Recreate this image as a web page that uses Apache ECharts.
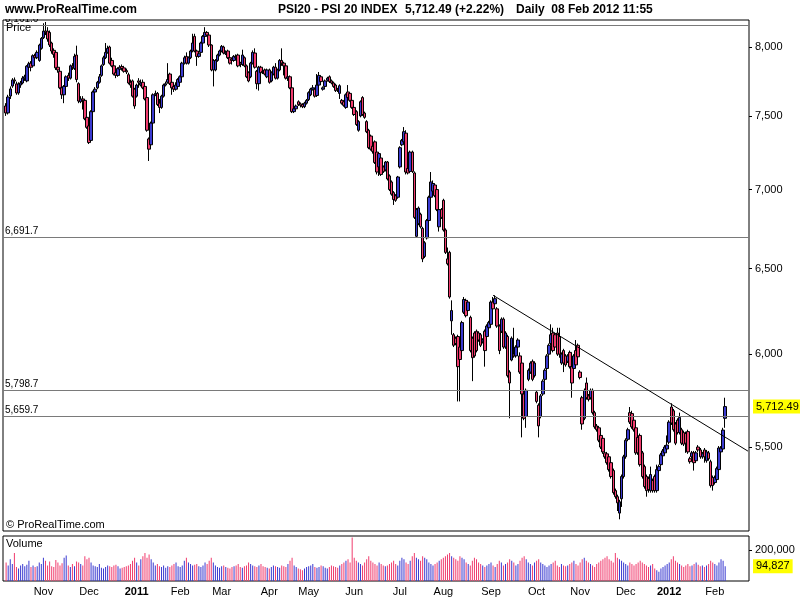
<!DOCTYPE html>
<html><head><meta charset="utf-8">
<script src="https://cdn.jsdelivr.net/npm/echarts@6/dist/echarts.min.js"></script>
<style>html,body{margin:0;padding:0;background:#fff}#c{width:800px;height:600px}</style>
</head><body><div id="c"></div>
<script>
// ---- DATA ----
// daily candles [open, close, low, high], 6 Oct 2010 .. 8 Feb 2012
const ohlc = [
[7570,7521,7500,7590],[7521,7634,7510,7650],[7641,7692,7620,7710],[7713,7757,7700,7770],[7757,7750,7730,7775],
[7728,7663,7650,7745],[7663,7728,7650,7740],[7720,7735,7700,7750],[7735,7770,7725,7785],[7770,7780,7750,7795],
[7750,7858,7740,7865],[7850,7875,7835,7890],[7880,7850,7820,7895],[7860,7935,7850,7945],[7935,7920,7900,7950],
[7920,7960,7910,7975],[7900,8015,7890,8025],[7990,8065,7980,8075],[8070,8120,8060,8180],[8120,8110,8090,8190],
[8120,8060,8040,8150],[8110,8015,8000,8125],[8030,7970,7950,8040],[7975,7945,7920,7990],[7960,7845,7830,7970],
[7850,7830,7810,7860],[7820,7700,7690,7830],[7700,7650,7620,7720],[7650,7710,7590,7720],[7710,7780,7700,7790],
[7790,7770,7750,7810],[7770,7860,7760,7870],[7860,7850,7830,7880],[7840,7930,7830,7950],[7940,7760,7740,8010],
[7730,7605,7590,7740],[7600,7620,7590,7640],[7620,7610,7545,7640],[7610,7480,7470,7620],[7490,7420,7410,7510],
[7430,7315,7305,7440],[7330,7530,7320,7540],[7530,7670,7520,7680],[7670,7690,7650,7705],[7700,7740,7690,7750],
[7740,7780,7730,7800],[7790,7860,7780,7870],[7870,7920,7860,7935],[7920,7960,7910,8030],[7960,7990,7950,8010],
[8000,7880,7870,8010],[7900,7860,7850,7920],[7860,7800,7790,7870],[7810,7790,7770,7830],[7790,7840,7780,7850],
[7835,7850,7820,7865],[7855,7840,7825,7870],[7845,7820,7810,7860],[7825,7815,7800,7840],[7795,7735,7725,7810],
[7740,7720,7700,7760],[7750,7640,7630,7760],[7690,7570,7550,7700],[7640,7720,7630,7730],[7750,7740,7700,7770],
[7720,7735,7710,7760],[7740,7700,7690,7760],[7710,7620,7610,7720],[7630,7400,7390,7640],[7340,7270,7190,7350],
[7300,7450,7290,7460],[7450,7650,7440,7660],[7650,7660,7640,7680],[7660,7580,7570,7670],[7590,7560,7520,7620],
[7560,7640,7550,7650],[7640,7720,7630,7730],[7720,7730,7710,7745],[7740,7760,7730,7880],[7800,7730,7720,7810],
[7740,7700,7650,7760],[7710,7690,7670,7720],[7690,7720,7680,7740],[7710,7760,7700,7770],[7740,7780,7730,7790],
[7780,7880,7770,7890],[7880,7920,7870,7935],[7930,7880,7870,7960],[7880,7920,7870,7930],[7920,7970,7910,7980],
[7970,8030,7960,8100],[8080,7970,7960,8100],[7970,7930,7860,7980],[7930,7950,7920,7965],[7960,8030,7950,8040],
[8030,8080,8020,8090],[8080,8110,8070,8150],[8110,8090,8080,8120],[8090,8015,8000,8100],[8015,7830,7820,8020],
[7830,7900,7710,7910],[7830,7900,7820,7910],[7900,7940,7890,7950],[7940,7970,7930,7980],[7970,8005,7960,8015],
[8000,7955,7945,8010],[7950,7960,7940,7975],[7970,7920,7910,7980],[7920,7880,7870,7930],[7910,7900,7870,7920],
[7900,7930,7890,7940],[7930,7920,7905,7945],[7940,7860,7850,7950],[7880,7870,7850,7890],[7870,7940,7860,7980],
[7920,7860,7850,7930],[7860,7780,7770,7870],[7810,7750,7740,7820],[7780,7880,7770,7890],[7880,7960,7870,7975],
[7955,7850,7840,7990],[7820,7730,7690,7830],[7730,7850,7680,7860],[7850,7810,7800,7860],[7820,7815,7800,7835],
[7830,7800,7790,7840],[7780,7830,7770,7840],[7830,7740,7730,7840],[7750,7810,7740,7820],[7800,7850,7790,7860],
[7850,7770,7760,7880],[7770,7830,7760,7840],[7830,7900,7820,7910],[7900,7880,7860,7990],[7880,7860,7790,7890],
[7860,7770,7760,7870],[7770,7780,7750,7800],[7780,7700,7690,7790],[7700,7530,7520,7710],[7530,7550,7520,7565],
[7550,7570,7540,7580],[7600,7580,7570,7610],[7585,7575,7560,7595],[7580,7565,7555,7590],[7565,7590,7555,7600],
[7590,7610,7580,7620],[7615,7665,7605,7675],[7650,7690,7640,7700],[7690,7700,7680,7720],[7690,7640,7630,7700],
[7645,7720,7635,7800],[7720,7790,7710,7815],[7780,7745,7735,7790],[7690,7700,7680,7710],[7710,7750,7700,7760],
[7755,7770,7745,7780],[7780,7745,7735,7790],[7750,7735,7725,7760],[7735,7710,7700,7745],[7720,7680,7670,7730],
[7695,7690,7670,7700],[7660,7715,7620,7725],[7610,7590,7580,7620],[7600,7575,7565,7610],[7560,7650,7550,7660],
[7670,7630,7620,7720],[7660,7610,7600,7670],[7610,7560,7550,7620],[7560,7510,7500,7570],[7530,7440,7430,7540],
[7400,7460,7390,7470],[7500,7600,7490,7610],[7630,7510,7500,7640],[7520,7490,7480,7530],[7460,7390,7380,7470],
[7400,7280,7270,7410],[7360,7270,7260,7370],[7290,7255,7240,7300],[7320,7180,7170,7330],[7250,7116,7100,7260],
[7150,7240,7090,7250],[7210,7100,7090,7220],[7150,7120,7110,7160],[7130,7183,7120,7190],[7183,7070,7060,7190],
[7090,7000,6990,7100],[7050,6970,6960,7060],[6980,6935,6900,6990],[6960,6930,6920,6970],[6950,7083,6940,7090],
[7150,7280,7140,7290],[7300,7330,7290,7340],[7320,7390,7310,7422],[7380,7116,7100,7400],[7140,7110,7100,7150],
[7120,7250,7110,7260],[7250,7120,7110,7260],[7110,6820,6810,7120],[6700,6870,6690,6880],[6780,6880,6770,6890],
[6840,6760,6750,6850],[6750,6560,6540,6760],[6575,6660,6565,6670],[6690,6800,6680,6810],[6800,6950,6790,6960],
[6950,7050,6940,7116],[6990,7040,6980,7060],[7030,6960,6950,7040],[7000,6870,6860,7010],[6760,6870,6730,6880],
[6870,6820,6810,6880],[6930,6740,6730,6940],[6740,6600,6590,6750],[6560,6530,6520,6630],[6600,6330,6320,6610],
[6190,6250,6110,6310],[6110,6050,6040,6120],[6090,6060,6050,6100],[6100,5930,5740,6110],[6040,5970,5740,6050],
[6020,6180,6010,6190],[6240,6315,6230,6330],[6310,6220,6210,6320],[6250,6300,6240,6310],[6210,6020,6010,6220],
[6090,5980,5850,6100],[6120,5990,5980,6130],[6130,6020,6010,6140],[6120,6080,6070,6130],[6110,6050,6040,6120],
[6070,6080,6060,6090],[6130,6020,5930,6140],[6100,6160,6090,6170],[6150,6180,6140,6190],[6170,6300,6160,6310],
[6300,6260,6250,6330],[6290,6320,6280,6340],[6260,6160,6150,6270],[6160,6020,6000,6170],[6130,6200,6120,6210],
[6200,6040,6030,6210],[6040,6120,6030,6130],[6100,5880,5870,6110],[5900,5840,5650,5910],[5967,6090,5960,6100],
[6000,5990,5980,6150],[5990,6040,5980,6050],[6040,6080,6030,6090],[5990,5900,5890,6010],[5950,5780,5550,5960],
[5780,5650,5640,5790],[5660,5800,5600,5810],[5860,5910,5850,5920],[5900,5950,5890,5960],[5960,5860,5850,5970],
[5880,5950,5870,5960],[5790,5740,5730,5800],[5720,5610,5550,5730],[5660,5770,5650,5780],[5780,5850,5770,5860],
[5860,5910,5850,5920],[5920,5990,5910,6000],[6000,6050,5990,6060],[6060,6110,6050,6170],[6120,6020,6010,6150],
[6110,6040,6030,6120],[6120,6000,5990,6150],[6100,6000,5980,6150],[5950,6000,5940,6010],[6020,5950,5900,6030],
[5990,5940,5930,6000],[5960,5990,5950,6000],[6010,5930,5920,6020],[5930,5840,5760,5940],[5920,5990,5910,6000],
[6020,5940,5930,6080],[6050,5985,5975,6060],[5900,5870,5860,5910],[5760,5620,5590,5770],[5650,5800,5640,5810],
[5840,5760,5750,5870],[5770,5750,5740,5780],[5760,5800,5750,5810],[5800,5680,5670,5810],[5680,5605,5595,5690],
[5610,5590,5580,5620],[5600,5535,5525,5610],[5560,5500,5490,5570],[5545,5475,5465,5555],[5470,5450,5440,5480],
[5465,5420,5410,5475],[5450,5385,5375,5460],[5420,5350,5340,5430],[5380,5270,5260,5390],[5280,5250,5240,5290],
[5250,5220,5180,5260],[5170,5225,5140,5235],[5240,5350,5200,5360],[5350,5450,5340,5460],[5450,5535,5440,5545],
[5540,5590,5530,5600],[5680,5630,5620,5710],[5675,5605,5595,5690],[5640,5590,5580,5650],[5600,5470,5460,5610],
[5550,5470,5460,5560],[5560,5410,5400,5570],[5470,5350,5340,5480],[5400,5300,5290,5410],[5350,5280,5250,5360],
[5340,5285,5270,5350],[5280,5360,5270,5400],[5330,5280,5270,5340],[5350,5280,5270,5360],[5280,5385,5270,5410],
[5380,5400,5370,5410],[5410,5460,5400,5470],[5455,5480,5445,5490],[5470,5500,5460,5510],[5490,5510,5480,5560],
[5525,5630,5515,5640],[5710,5625,5615,5730],[5690,5590,5580,5700],[5620,5520,5510,5630],[5640,5575,5565,5650],
[5575,5655,5565,5680],[5590,5520,5510,5600],[5575,5515,5505,5585],[5570,5520,5470,5580],[5580,5475,5465,5590],
[5440,5425,5415,5450],[5450,5470,5440,5480],[5470,5420,5380,5480],[5430,5470,5420,5480],[5500,5485,5475,5510],
[5485,5450,5440,5495],[5450,5465,5440,5475],[5485,5450,5420,5495],[5430,5475,5420,5485],[5470,5440,5430,5480],
[5425,5305,5295,5435],[5345,5305,5280,5355],[5320,5345,5310,5355],[5335,5390,5325,5400],[5385,5495,5375,5505],
[5475,5495,5465,5505],[5490,5588,5480,5600],[5650,5712.49,5600,5760]
];
// daily volume, in thousands of shares
const volumeK = [
120,100,140,110,180,90,80,100,110,95,105,130,90,100,90,95,120,110,150,130,100,125,95,90,135,120,100,
115,150,165,100,90,110,95,125,120,110,100,160,140,150,120,100,95,90,110,85,80,90,100,95,90,100,105,95,80,85,90,95,100,
110,130,150,120,100,140,160,180,150,170,140,120,100,110,95,90,100,85,95,90,100,110,120,95,90,100,130,150,120,110,100,
105,110,95,90,100,120,110,130,150,120,100,90,85,95,100,90,85,80,90,95,100,110,90,85,95,100,120,110,100,95,
90,100,110,95,90,85,80,90,100,95,90,85,100,95,90,110,130,150,100,90,80,75,70,80,90,95,100,110,90,85,
90,100,95,85,80,90,100,95,90,85,100,110,120,130,140,120,280,150,130,120,110,100,120,140,160,130,120,110,100,120,
110,100,95,100,110,120,130,110,100,130,150,140,120,110,130,160,180,150,140,130,160,150,140,120,110,100,110,120,130,140,
150,160,170,180,160,150,140,130,160,150,140,120,110,100,130,150,140,120,110,100,90,100,110,120,100,90,110,130,120,100,
110,120,140,130,120,100,110,130,150,160,140,120,110,100,120,130,140,120,110,100,90,100,110,120,130,100,90,110,100,95,
100,110,120,130,110,100,120,140,150,130,120,110,100,90,110,120,130,140,150,160,140,130,120,180,150,140,130,120,110,100,
120,110,100,110,120,130,120,110,100,90,100,110,80,70,60,80,90,100,110,120,140,160,130,120,110,100,90,100,110,95,
100,110,120,105,95,100,90,100,110,130,120,110,100,120,140,130,94.827
];
const priceTicks = [5500, 6000, 6500, 7000, 7500, 8000];
const volumeTicksK = [200];
const levelLines = [8161.6, 6691.7, 5798.7, 5659.7];
const lastPrice = 5712.49;
const lastChangePct = 2.22;
const lastVolumeK = 94.827;
const trendLine = [[235, 6340], [358, 5479]]; // [trading-day index, price]
const monthNames = ['Jan','Feb','Mar','Apr','May','Jun','Jul','Aug','Sep','Oct','Nov','Dec'];
const holidays = ['2011-04-22','2011-04-25','2011-12-26'];
const futureDays = 11;

// ---- categories: trading days (+ one blank slot before, future slots after) ----
function tradingDays(startY, startM, startD, count) {
  const out = []; const d = new Date(Date.UTC(startY, startM, startD));
  while (out.length < count) {
    const wd = d.getUTCDay(); const s = d.toISOString().slice(0, 10);
    if (wd !== 0 && wd !== 6 && holidays.indexOf(s) < 0) out.push(s);
    d.setUTCDate(d.getUTCDate() + 1);
  }
  return out;
}
const days = tradingDays(2010, 9, 6, ohlc.length + futureDays);
const categories = [''].concat(days);

const BLUE = '#3a3ad0', RED = '#f03c6e', FONT = 'Liberation Sans, Arial, sans-serif';
const fmtN = (v, d) => Number(v).toLocaleString('en-US', {minimumFractionDigits: d, maximumFractionDigits: d});
function monthStart(i) {
  if (i < 2) return false;
  return categories[i].slice(5, 7) !== categories[i - 1].slice(5, 7);
}

const candleData = ohlc.map((r, i) => [i + 1, r[0], r[1], r[2], r[3]]);
const volData = volumeK.map((v, i) => ({
  value: [i + 1, v],
  itemStyle: {color: ohlc[i][1] >= ohlc[i][0] ? BLUE : RED}
}));
const hidden = {color: 'rgba(0,0,0,0)', width: 0};

const chart = echarts.init(document.getElementById('c'), null, {renderer: 'canvas'});
chart.setOption({
  animation: false,
  backgroundColor: '#fff',
  textStyle: {fontFamily: FONT},
  grid: [
    {left: 3, top: 20, width: 746, height: 511, show: true, borderColor: '#000', borderWidth: 1, backgroundColor: '#fff'},
    {left: 3, top: 536, width: 746, height: 45, show: true, borderColor: '#000', borderWidth: 1, backgroundColor: '#fff'}
  ],
  xAxis: [
    {type: 'category', gridIndex: 0, data: categories, boundaryGap: true,
     axisLine: {show: false}, axisTick: {show: false}, axisLabel: {show: false}, splitLine: {show: false}},
    {type: 'category', gridIndex: 1, data: categories, boundaryGap: true,
     axisLine: {show: false}, axisTick: {show: false}, splitLine: {show: false},
     axisLabel: {show: true, interval: (i) => monthStart(i), margin: 5, color: '#000', fontSize: 11, fontFamily: FONT,
       formatter: (v) => { const m = +v.slice(5, 7); return m === 1 ? '{y|' + v.slice(0, 4) + '}' : monthNames[m - 1]; },
       rich: {y: {fontWeight: 'bold', fontSize: 11, fontFamily: FONT, color: '#000'}}}}
  ],
  yAxis: [
    {type: 'log', gridIndex: 0, position: 'right', min: 5084, max: 8205, logBase: 10,
     axisLine: {show: false}, splitLine: {show: false},
     axisTick: {show: true, customValues: priceTicks, length: 3, lineStyle: {color: '#000'}},
     axisLabel: {show: true, customValues: priceTicks, margin: 6, color: '#000', fontSize: 11, fontFamily: FONT,
       formatter: (v) => fmtN(v, 0)}},
    {type: 'value', gridIndex: 1, position: 'right', min: 0, max: 290,
     axisLine: {show: false}, splitLine: {show: false},
     axisTick: {show: true, customValues: volumeTicksK, length: 3, lineStyle: {color: '#000'}},
     axisLabel: {show: true, customValues: volumeTicksK, margin: 6, color: '#000', fontSize: 11, fontFamily: FONT,
       formatter: (v) => fmtN(v * 1000, 0)}}
  ],
  series: [
    {type: 'candlestick', xAxisIndex: 0, yAxisIndex: 0, data: candleData,
     encode: {x: 0, y: [1, 2, 3, 4]}, barWidth: 3,
     itemStyle: {color: BLUE, color0: RED, borderColor: '#000', borderColor0: '#000', borderColorDoji: '#000', borderWidth: 1},
     markLine: {silent: true, symbol: 'none', animation: false,
       data: levelLines.map(v => ({yAxis: v, lineStyle: {color: '#7a7a7a', width: 1, type: 'solid'},
         label: {show: true, position: 'insideStartTop', distance: [2, 1], formatter: fmtN(v, 1), color: '#000', fontSize: 10, fontFamily: FONT}}))
         .concat([
           {yAxis: lastPrice, lineStyle: hidden,
            label: {show: true, position: 'end', distance: 4, formatter: fmtN(lastPrice, 2), color: '#000', fontSize: 11, fontFamily: FONT,
              backgroundColor: '#ffff00', padding: [2, 3, 1, 3]}},
           [{coord: [trendLine[0][0] + 1, trendLine[0][1]], lineStyle: {color: '#000', width: 1, type: 'solid'}, label: {show: false}},
            {coord: [trendLine[1][0] + 1, trendLine[1][1]]}]
         ])}
    },
    {type: 'bar', xAxisIndex: 1, yAxisIndex: 1, data: volData, barWidth: 1,
     markLine: {silent: true, symbol: 'none', animation: false,
       data: [{yAxis: lastVolumeK, lineStyle: hidden,
         label: {show: true, position: 'end', distance: 4, formatter: fmtN(lastVolumeK * 1000, 0), color: '#000', fontSize: 11, fontFamily: FONT,
           backgroundColor: '#ffff00', padding: [2, 3, 1, 3]}}]}}
  ],
  graphic: [
    {type: 'rect', left: 0, top: 0, z: 100, shape: {width: 800, height: 19}, style: {fill: '#fff'}},
    {type: 'text', left: 5, top: 4, z: 101, style: {text: 'www.ProRealTime.com', font: 'bold 12px ' + FONT, fill: '#000'}},
    {type: 'text', left: 278, top: 4, z: 101, style: {text: 'PSI20 - PSI 20 INDEX', font: 'bold 12px ' + FONT, fill: '#000'}},
    {type: 'text', left: 405, top: 4, z: 101, style: {text: fmtN(lastPrice, 2) + ' (+' + fmtN(lastChangePct, 2) + '%)', font: 'bold 12px ' + FONT, fill: '#000'}},
    {type: 'text', left: 516, top: 4, z: 101, style: {text: 'Daily  08 Feb 2012 11:55', font: 'bold 12px ' + FONT, fill: '#000'}},
    {type: 'text', left: 6, top: 22, z: 101, style: {text: 'Price', font: '11px ' + FONT, fill: '#000'}},
    {type: 'text', left: 6, top: 519, z: 101, style: {text: '\u00A9 ProRealTime.com', font: '11px ' + FONT, fill: '#000'}},
    {type: 'text', left: 6, top: 538, z: 101, style: {text: 'Volume', font: '11px ' + FONT, fill: '#000'}}
  ]
});
</script></body></html>
